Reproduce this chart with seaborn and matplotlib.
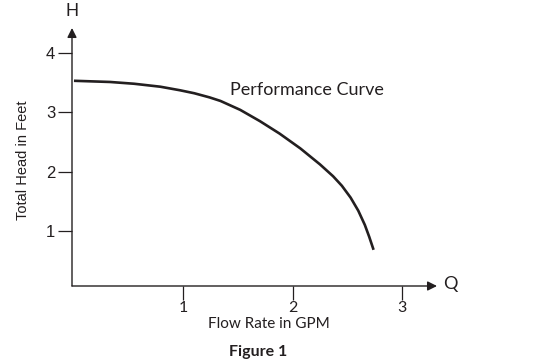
import matplotlib
matplotlib.use("Agg")
import matplotlib.pyplot as plt
import seaborn as sns
import pandas as pd
from matplotlib import font_manager as fm

flow = [0.0, 0.33, 0.55, 0.79, 0.97, 1.10, 1.24, 1.34, 1.52, 1.70, 1.88, 2.07, 2.25, 2.37, 2.45, 2.53, 2.60, 2.66, 2.70, 2.74]
head = [3.53, 3.51, 3.48, 3.43, 3.37, 3.32, 3.25, 3.19, 3.04, 2.85, 2.64, 2.39, 2.12, 1.92, 1.76, 1.56, 1.34, 1.10, 0.90, 0.68]
xticks = [1, 2, 3]
yticks = [1, 2, 3, 4]

sns.set_style("white")
plt.rcParams['font.family'] = ['Lato', 'DejaVu Sans']

df = pd.DataFrame({"Flow": flow, "Head": head})

ink = "#231f20"
fig = plt.figure(figsize=(5.33, 3.6), dpi=100)
ax = fig.add_axes([72/533, 1-286/360, (437-72)/533, (286-28)/360])

sns.lineplot(data=df, x="Flow", y="Head", ax=ax, color=ink, lw=1.9, sort=False,
             solid_capstyle='butt', solid_joinstyle='round')

ax.set_xlim(-0.018, 3.32)
ax.set_ylim(0.07, 4.42)
for s in ax.spines.values():
    s.set_visible(False)

helv = fm.FontProperties(family=['Liberation Sans', 'DejaVu Sans'], size=12)

ax.set_xticks(xticks)
ax.set_yticks(yticks)
ax.tick_params(axis='both', direction='out', length=10, width=0.9, color=ink,
               labelcolor=ink, bottom=True, left=True)
ax.tick_params(axis='x', pad=1, labelsize=11.5)
ax.set_yticklabels([str(v) for v in yticks], fontproperties=helv)
ax.tick_params(axis='y', pad=2)

# axis arrows
ax.annotate("", xy=(0, 1.0), xytext=(0, 0), xycoords='axes fraction',
            arrowprops=dict(arrowstyle='-|>', lw=1.0, color=ink, mutation_scale=14,
                            shrinkA=0, shrinkB=0))
ax.annotate("", xy=(1.0, 0), xytext=(0, 0), xycoords='axes fraction',
            arrowprops=dict(arrowstyle='-|>', lw=1.0, color=ink, mutation_scale=14,
                            shrinkA=0, shrinkB=0))

ax.set_xlabel("")
ax.set_ylabel("")
fig.text(72/533, 1-12/360, "H", ha='center', va='center', color=ink,
         fontproperties=fm.FontProperties(family=['Liberation Sans', 'DejaVu Sans'], size=13))
fig.text(450/533, 1-284/360, "Q", ha='center', va='center', fontsize=13, color=ink)
fig.text(23/533, 1-160/360, "Total Head in Feet", rotation=90, ha='center', va='center',
         color=ink, fontproperties=fm.FontProperties(family=['Liberation Sans', 'DejaVu Sans'], size=10.5))
fig.text(269/533, 1-324/360, "Flow Rate in GPM", ha='center', va='center', fontsize=11,
         color=ink)
fig.text(258/533, 1-352/360, "Figure 1", ha='center', va='center', fontsize=11.5,
         fontweight='bold', color=ink)
ax.text(1.43, 3.38, "Performance Curve", ha='left', va='center', fontsize=13, color=ink)

fig.savefig("out.png", dpi=100)
